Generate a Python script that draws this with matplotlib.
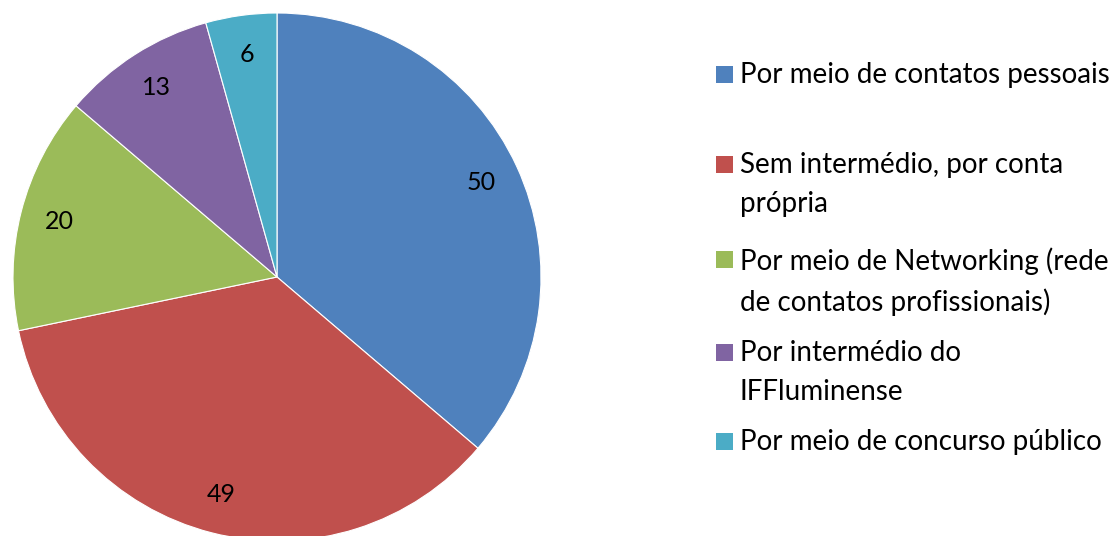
import matplotlib.pyplot as plt
from matplotlib.patches import Rectangle

# Como os egressos conseguiram o emprego atual
categorias = [
    "Por meio de contatos pessoais",
    "Sem intermédio, por conta\nprópria",
    "Por meio de Networking (rede\nde contatos profissionais)",
    "Por intermédio do\nIFFluminense",
    "Por meio de concurso público",
]
valores = [50, 49, 20, 13, 6]
cores = ["#4F81BD", "#C0504D", "#9BBB59", "#8064A2", "#4BACC6"]

plt.rcParams['font.family'] = ['Lato', 'DejaVu Sans']

W, H = 1115, 536
fig = plt.figure(figsize=(W / 100, H / 100), dpi=100)

# eixo da pizza: centro (277, 277) px, raio 264 px (cortada embaixo)
cx, cy, r = 277, 277, 264
ax = fig.add_axes([(cx - r) / W, (H - cy - r) / H, 2 * r / W, 2 * r / H])
ax.pie(valores, colors=cores, startangle=90, counterclock=False, radius=1,
       wedgeprops=dict(edgecolor='white', linewidth=0.8),
       autopct=lambda p: f"{round(p * sum(valores) / 100):d}", pctdistance=0.85,
       textprops=dict(fontsize=18, color='black'))
ax.set_xlim(-1, 1)
ax.set_ylim(-1, 1)
ax.set_aspect('auto')
ax.axis('off')

# legenda desenhada à mão (entradas com espaçamento irregular)
linhas_y = [75, 165, 260, 353, 442]
for cat, cor, y in zip(categorias, cores, linhas_y):
    fig.patches.append(Rectangle((716 / W, 1 - (y + 8) / H), 17 / W, 17 / H,
                                 transform=fig.transFigure, facecolor=cor,
                                 edgecolor='none'))
    fig.text(740 / W, 1 - (y - 13) / H, cat, fontsize=20, va='top', ha='left',
             linespacing=1.62, color='black')

fig.savefig("out.png", dpi=100)
